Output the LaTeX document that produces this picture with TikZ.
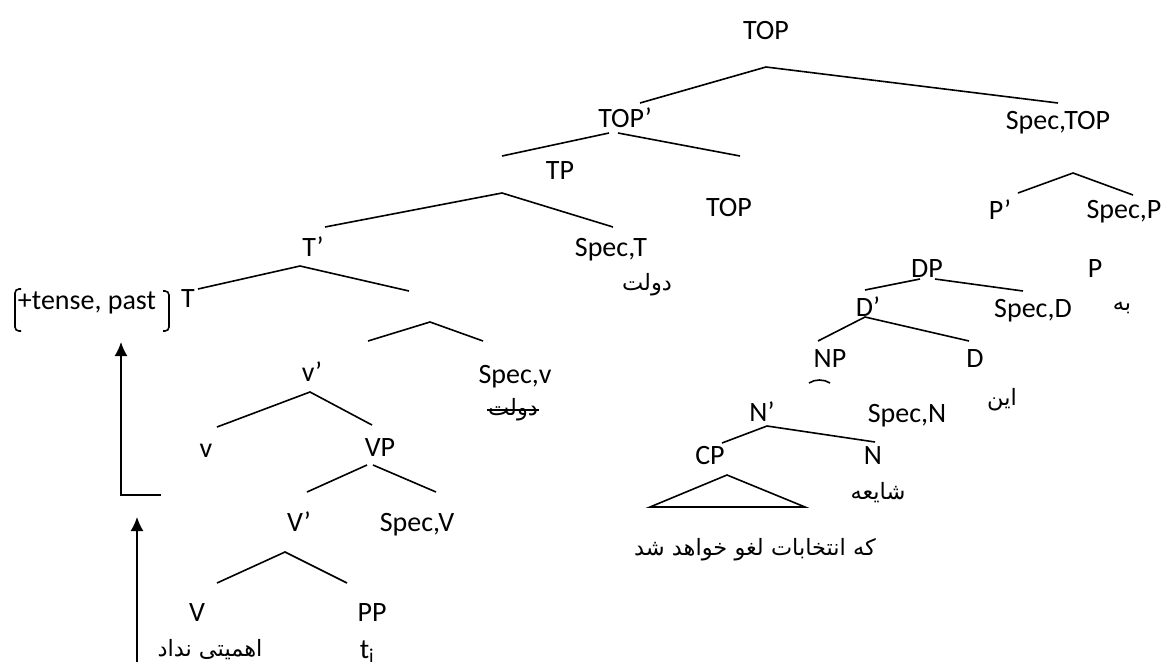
\documentclass[tikz,border=0pt]{standalone}
\usepackage{fontspec}
\setmainfont{Carlito}
\newfontfamily\fafont[Script=Arabic]{DejaVu Sans}
\TeXXeTstate=1
\usetikzlibrary{arrows.meta}

\tikzset{
  lbl/.style={inner sep=0pt, text height=18pt, text depth=0pt, font=\fontsize{28}{34}\selectfont},
  fa/.style={inner sep=0pt, font=\fontsize{22.5}{28}\selectfont\fafont},
}

\begin{document}
\begin{tikzpicture}[x=1pt,y=-1pt,line width=1.6pt,>={Latex[length=14pt,width=13pt]}]
\useasboundingbox (0,0) rectangle (1175,662);

% labels of the tree
\node[lbl] (top) at (766,30) {TOP};
\node[lbl] (topbar) at (625,118) {TOP’};
\node[lbl] (spectop) at (1058,120) {Spec,TOP};
\node[lbl] (tp) at (560,170) {TP};
\node[lbl] (topb) at (729,207) {TOP};
\node[lbl] (pbar) at (1000,210) {P’};
\node[lbl] (specp) at (1124,209) {Spec,P};
\node[lbl] (tbar) at (313,247) {T’};
\node[lbl] (spect) at (611,247) {Spec,T};
\node[fa] (dowlat) at (647,285) {\beginR دولت\endR};
\node[lbl] (feat) at (87,300) {+tense, past};
\node[lbl] (t) at (188,298) {T};
\node[lbl] (dp) at (927,268) {DP};
\node[lbl] (p) at (1095,268) {P};
\node[lbl] (dbar) at (868,307) {D’};
\node[lbl] (specd) at (1033,308) {Spec,D};
\node[fa] (be) at (1122,308) {\beginR به\endR};
\node[lbl] (np) at (830,358) {NP};
\node[lbl] (d) at (975,358) {D};
\node[lbl] (vbar) at (312,372) {v’};
\node[lbl] (specv) at (515,374) {Spec,v};
\node[fa] (dowlatx) at (513,410) {\beginR دولت\endR};
\node[fa] (ein) at (1002,400) {\beginR این\endR};
\node[lbl] (nbar) at (762,412) {N’};
\node[lbl] (specn) at (907,413) {Spec,N};
\node[lbl] (sv) at (206,448) {v};
\node[lbl] (vp) at (380,447) {VP};
\node[lbl] (cp) at (710,455) {CP};
\node[lbl] (n) at (873,455) {N};
\node[fa] (shayee) at (878,493) {\beginR شایعه\endR};
\node[lbl] (vbarb) at (299,522) {V’};
\node[lbl] (specvb) at (417,522) {Spec,V};
\node[fa] (clause) at (755,550) {\beginR که انتخابات لغو خواهد شد\endR};
\node[lbl] (bv) at (197,612) {V};
\node[lbl] (pp) at (372,612) {PP};
\node[fa] (ahamiyat) at (210,650) {\beginR اهمیتی نداد\endR};
\node[lbl] (ti) at (367,649) {t\textsubscript{i}};

% branches
\coordinate (topL) at (640,103);
\coordinate (topA) at (766,67);
\coordinate (topR) at (1058,103);
\draw (topL) -- (topA) -- (topR);

\coordinate (topbarL) at (502,156);
\coordinate (topbarA) at (609,133);
\coordinate (topbarB) at (618,133);
\coordinate (topbarR) at (740,156);
\draw (topbarL) -- (topbarA);
\draw (topbarB) -- (topbarR);

\coordinate (tpL) at (325,227);
\coordinate (tpA) at (502,193);
\coordinate (tpR) at (613,227);
\draw (tpL) -- (tpA) -- (tpR);

\coordinate (pbarL) at (1018,193);
\coordinate (pbarA) at (1073,173);
\coordinate (pbarR) at (1133,195);
\draw (pbarL) -- (pbarA) -- (pbarR);

\coordinate (tbarL) at (198,289);
\coordinate (tbarA) at (300,266);
\coordinate (tbarR) at (409,291);
\draw (tbarL) -- (tbarA) -- (tbarR);

\coordinate (vpsL) at (368,341);
\coordinate (vpsA) at (430,322);
\coordinate (vpsR) at (483,341);
\draw (vpsL) -- (vpsA) -- (vpsR);

\coordinate (vbarL) at (217,427);
\coordinate (vbarA) at (310,392);
\coordinate (vbarR) at (372,425);
\draw (vbarL) -- (vbarA) -- (vbarR);

\coordinate (vpL) at (307,492);
\coordinate (vpA) at (367,465);
\coordinate (vpB) at (373,465);
\coordinate (vpR) at (436,492);
\draw (vpL) -- (vpA);
\draw (vpB) -- (vpR);

\coordinate (vbarbL) at (217,583);
\coordinate (vbarbA) at (285,552);
\coordinate (vbarbR) at (347,583);
\draw (vbarbL) -- (vbarbA) -- (vbarbR);

\coordinate (dpL) at (865,290);
\coordinate (dpA) at (920,279);
\coordinate (dpB) at (935,279);
\coordinate (dpR) at (1023,291);
\draw (dpL) -- (dpA);
\draw (dpB) -- (dpR);

\coordinate (dbarL) at (818,341);
\coordinate (dbarA) at (865,317);
\coordinate (dbarR) at (969,341);
\draw (dbarL) -- (dbarA) -- (dbarR);

\coordinate (nbarL) at (722,443);
\coordinate (nbarA) at (767,426);
\coordinate (nbarR) at (875,442);
\draw (nbarL) -- (nbarA) -- (nbarR);

% small stroke under NP
\draw (809,383) .. controls (815,379) and (824,379) .. (830,383);

% triangle under CP
\coordinate (triA) at (727,475);
\coordinate (triL) at (650,507);
\coordinate (triR) at (805,507);
\draw (triL) -- (triA) -- (triR) -- cycle;

% struck out word
\draw[line width=1.2pt] (dowlatx.west) -- (dowlatx.east);

% brackets round the features
\draw[rounded corners=4pt] (21,289) -- (15,289) -- (15,331) -- (21,331);
\draw[rounded corners=4pt] (163,291) -- (169,291) -- (169,331) -- (163,331);

% movement arrows
\coordinate (movS) at (161,495);
\coordinate (movC) at (121,495);
\coordinate (movE) at (121,342);
\draw[->] (movS) -- (movC) -- (movE);

\coordinate (raiseS) at (137,662);
\coordinate (raiseE) at (137,517);
\draw[->] (raiseS) -- (raiseE);
\end{tikzpicture}
\end{document}
